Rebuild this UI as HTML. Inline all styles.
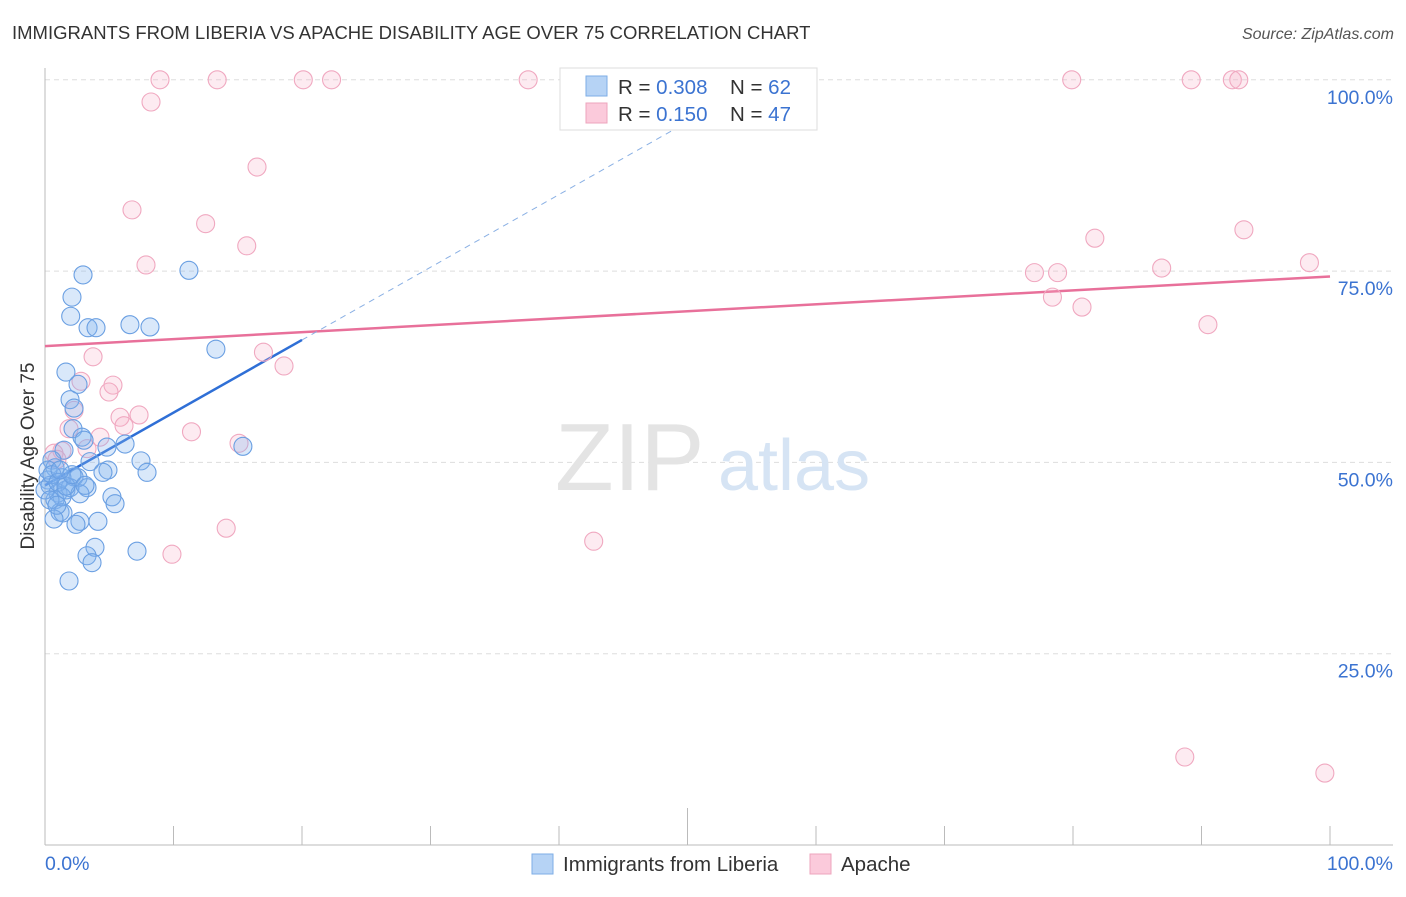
<!DOCTYPE html>
<html><head><meta charset="utf-8"><style>
body{margin:0;background:#fff;font-family:"Liberation Sans",sans-serif}
svg text{font-family:"Liberation Sans",sans-serif}
</style></head><body>
<svg id="chart" width="1406" height="892" viewBox="0 0 1406 892">
<text x="12" y="39" font-size="18.5" fill="#333">IMMIGRANTS FROM LIBERIA VS APACHE DISABILITY AGE OVER 75 CORRELATION CHART</text>
<text x="1394" y="39" font-size="16" fill="#555" font-style="italic" text-anchor="end">Source: ZipAtlas.com</text>
<text x="34" y="456" font-size="19" fill="#333" text-anchor="middle" transform="rotate(-90 34 456)">Disability Age Over 75</text>
<g id="grid"></g>
<g><text x="555" y="490" font-size="96" fill="#e4e4e4" font-family="Liberation Serif">ZIP</text><text x="718" y="490" font-size="72" fill="#d6e4f4">atlas</text></g>
<g id="lines"></g>
<g id="pts"></g>
<g>
<rect x="560" y="68" width="257" height="62" fill="#fff" stroke="#ddd"/>
<rect x="586" y="76" width="21" height="20" fill="#b6d3f5" stroke="#7eaee6"/>
<rect x="586" y="103" width="21" height="20" fill="#fbcadb" stroke="#eea4bd"/>
<text x="618" y="94" font-size="20.5" fill="#333">R = <tspan fill="#3b73d1">0.308</tspan></text>
<text x="730" y="94" font-size="20.5" fill="#333">N = <tspan fill="#3b73d1">62</tspan></text>
<text x="618" y="121" font-size="20.5" fill="#333">R = <tspan fill="#3b73d1"> 0.150</tspan></text>
<text x="730" y="121" font-size="20.5" fill="#333">N = <tspan fill="#3b73d1">47</tspan></text>
</g>
<g>
<rect x="532" y="854" width="21" height="20" fill="#b6d3f5" stroke="#7eaee6"/>
<text x="563" y="871" font-size="20.5" fill="#333">Immigrants from Liberia</text>
<rect x="810" y="854" width="21" height="20" fill="#fbcadb" stroke="#eea4bd"/>
<text x="841" y="871" font-size="20.5" fill="#333">Apache</text>
</g>
<text x="45" y="870" font-size="19.5" fill="#3b73d1">0.0%</text>
<text x="1393" y="870" font-size="19.5" fill="#3b73d1" text-anchor="end">100.0%</text>
</svg>
<script>
const blueX=[2.96,2.1,2.0,3.35,3.97,6.61,8.17,11.2,13.3,1.63,2.57,1.95,2.26,2.18,2.88,3.04,1.48,4.82,6.23,15.4,7.47,7.94,3.5,4.9,4.51,2.26,2.57,1.32,0.54,0.78,0.23,0.39,1.01,0.78,1.63,1.95,3.27,2.72,5.21,5.45,1.17,1.4,0.7,2.72,2.41,4.12,3.89,3.27,3.66,7.16,1.87,0,0.23,0.54,1.01,1.32,1.63,0.39,0.93,2.1,3.11,1.17];
const blueY=[74.5,71.6,69.1,67.6,67.6,68.0,67.7,75.1,64.8,61.8,60.2,58.2,57.1,54.4,53.3,52.9,51.6,52.0,52.4,52.1,50.2,48.7,50.1,49.0,48.7,48.1,48.0,48.0,50.3,49.3,47.7,47.0,46.0,45.1,46.4,46.7,46.7,45.9,45.5,44.6,43.5,43.4,42.6,42.3,41.9,42.3,38.9,37.8,36.9,38.4,34.5,46.4,49.0,48.4,47.4,45.5,46.9,45.1,44.4,48.4,47.0,49.0];
const pinkX=[8.95,13.4,20.1,22.3,37.6,79.9,89.2,92.4,92.9,8.25,16.5,6.77,12.5,15.7,7.86,81.7,93.3,77.0,78.8,86.9,98.4,78.4,80.7,90.5,17.0,18.6,3.74,2.8,5.29,4.98,2.26,5.84,7.32,6.15,1.87,11.4,4.28,15.1,3.27,1.32,0.7,0.93,14.1,42.7,9.88,88.7,99.6];
const pinkY=[100,100,100,100,100,100,100,100,100,97.1,88.6,83.0,81.2,78.3,75.8,79.3,80.4,74.8,74.8,75.4,76.1,71.6,70.3,68.0,64.4,62.6,63.8,60.6,60.1,59.2,56.8,55.9,56.2,54.8,54.4,54.0,53.3,52.5,51.8,51.5,51.2,50.4,41.4,39.7,38.0,11.5,9.4];
const yTicks=[25,50,75,100];
const yTickLabels=["25.0%","50.0%","75.0%","100.0%"];
const xTicks=[0,10,20,30,40,50,60,70,80,90,100];
const blueFit=[47.0,66.0];
const pinkFit=[65.2,74.3];
const NS="http://www.w3.org/2000/svg";
const sx=v=>45+v*12.85;
const sy=v=>845-v*7.652;
function mk(tag,attrs,parent){const e=document.createElementNS(NS,tag);for(const k in attrs)e.setAttribute(k,attrs[k]);parent.appendChild(e);return e;}
const grid=document.getElementById('grid');
yTicks.forEach((t,i)=>{
 const l=mk('line',{x1:45,x2:1393,y1:sy(t),y2:sy(t),stroke:'#ddd','stroke-dasharray':'5,4'},grid);
 
 
 const tx=mk('text',{x:1393,y:sy(t)+24,'font-size':19.5,fill:'#3b73d1','text-anchor':'end'},grid);
 tx.textContent=yTickLabels[i];
 
 
});
const ax=mk('line',{x1:45,x2:45,y1:68,y2:845,stroke:'#bbb'},grid);


const bx=mk('line',{x1:45,x2:1393,y1:845,y2:845,stroke:'#bbb'},grid);


xTicks.forEach(t=>{
 const l=mk('line',{x1:sx(t),x2:sx(t),y1:t===50?808:826,y2:845,stroke:'#bbb'},grid);
 
 
});
const lines=document.getElementById('lines');
const pl=mk('line',{x1:sx(0),y1:sy(pinkFit[0]),x2:sx(100),y2:sy(pinkFit[1]),stroke:'#e8709a','stroke-width':2.5},lines);


const bl=mk('line',{x1:sx(0),y1:sy(blueFit[0]),x2:sx(20),y2:sy(blueFit[1]),stroke:'#2f6fd6','stroke-width':2.5},lines);


const slope=(blueFit[1]-blueFit[0])/20;
const xe=(99-blueFit[0])/slope;
const bd=mk('line',{x1:sx(20),y1:sy(blueFit[1]),x2:sx(xe),y2:sy(99),stroke:'#8ab0e4','stroke-width':1,'stroke-dasharray':'6,5'},lines);


const pts=document.getElementById('pts');
pinkX.forEach((x,i)=>{
 const c=mk('circle',{cx:sx(x),cy:sy(pinkY[i]),r:9,fill:'rgba(248,175,200,0.25)',stroke:'#f0a8c0','stroke-width':1.1},pts);
 
 
});
blueX.forEach((x,i)=>{
 const c=mk('circle',{cx:sx(x),cy:sy(blueY[i]),r:9,fill:'rgba(130,180,240,0.3)',stroke:'#6a9fe2','stroke-width':1.1},pts);
 
 
});
</script>
</body></html>
